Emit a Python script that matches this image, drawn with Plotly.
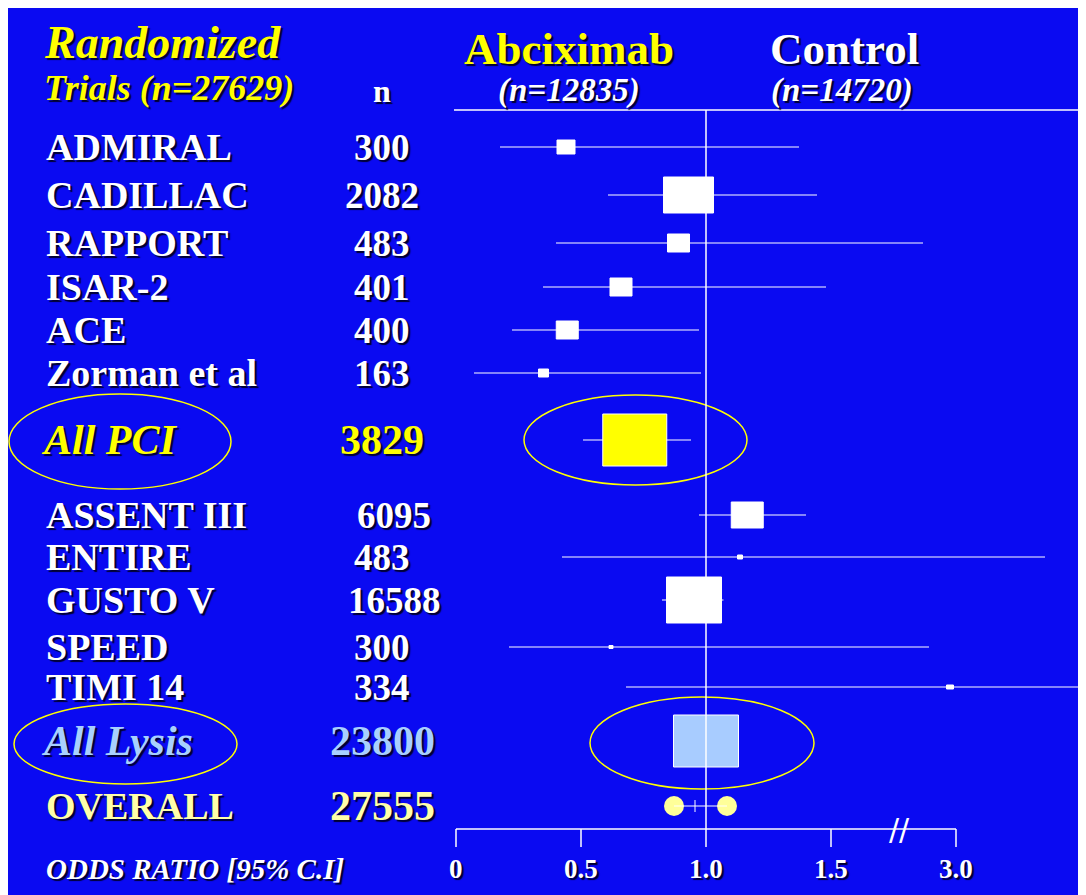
import plotly.graph_objects as go

# data (axis units: 0..1.5 linear odds ratio; beyond 1.5 the scale is compressed, 3.0 shown at 2.0)
trials = ["ADMIRAL", "CADILLAC", "RAPPORT", "ISAR-2", "ACE", "Zorman et al", "All PCI",
          "ASSENT III", "ENTIRE", "GUSTO V", "SPEED", "TIMI 14", "All Lysis", "OVERALL"]
n_pat = ["300", "2082", "483", "401", "400", "163", "3829",
         "6095", "483", "16588", "300", "334", "23800", "27555"]
est = [0.44, 0.93, 0.89, 0.66, 0.445, 0.35, 0.715, 1.165, 1.136, 0.952, 0.62, 1.976, 1.0, 0.956]
lo = [0.176, 0.608, 0.40, 0.348, 0.224, 0.072, 0.508, 0.972, 0.424, 0.824, 0.212, 0.68, 1.0, 0.872]
hi = [1.372, 1.444, 1.868, 1.48, 0.972, 0.98, 0.94, 1.40, 2.356, 1.07, 1.892, 2.516, 1.0, 1.084]
tick_vals = [0, 0.5, 1.0, 1.5, 2.0]
tick_text = ["0", "0.5", "1.0", "1.5", "3.0"]

# layout/styles
row_y = [148, 196, 244, 288, 331, 374, 441, 516, 558, 601, 648, 688, 742, 807]
box_w = [18, 50, 22, 22, 22, 10, 64, 32, 5, 55, 4, 7, 65, 0]
box_h = [14, 36, 18, 18, 18, 8, 52, 26, 4, 46, 3, 4, 52, 0]
num_x = [383, 383, 383, 383, 383, 383, 383, 395, 383, 395, 383, 383, 383, 383]
name_col = ["white"] * 6 + ["#ffff00"] + ["white"] * 5 + ["#a8d0ff", "#ffffaa"]
box_col = ["white"] * 6 + ["#ffff00"] + ["white"] * 5 + ["#a8ccff", "#ffff99"]

X0, S = 457, 250.0
OFF = 9
def u(px): return (px - X0) / S

BG = "#0a0af2"
SH = "2px 2px 1px #000030"
FONT = "Liberation Serif"
fig = go.Figure()
shapes, ann = [], []

for i, t in enumerate(trials):
    y = row_y[i]
    shapes.append(dict(type="line", x0=lo[i], x1=hi[i], y0=y, y1=y, line=dict(color="white", width=1.2)))
    if box_w[i] > 0:
        shapes.append(dict(type="rect", x0=est[i] - box_w[i] / 2 / S, x1=est[i] + box_w[i] / 2 / S,
                           y0=y - box_h[i] / 2, y1=y + box_h[i] / 2,
                           fillcolor=box_col[i], line=dict(color="white", width=1)))
    italic = t.startswith("All")
    sz = 42 if italic else 38
    ann.append(dict(x=u(40 if italic else 45), y=y, text=f"<b><i>{t}</i></b>" if italic else f"<b>{t}</b>",
                    xanchor="left", yanchor="middle", showarrow=False,
                    font=dict(family=FONT, size=sz, color=name_col[i], shadow=SH)))
    ann.append(dict(x=u(num_x[i]), y=y, text=f"<b>{n_pat[i]}</b>", xanchor="center", yanchor="middle",
                    showarrow=False, font=dict(family=FONT, size=42 if i in (6, 12, 13) else 37,
                                               color=name_col[i], shadow=SH)))

# overall: circles at CI ends
fig.add_trace(go.Scatter(x=[lo[13], hi[13]], y=[row_y[13]] * 2, mode="markers",
                         marker=dict(size=20, color="#ffff99", line=dict(width=0)), hoverinfo="skip"))
shapes.append(dict(type="line", x0=est[13], x1=est[13], y0=row_y[13] - 6, y1=row_y[13] + 6,
                   line=dict(color="white", width=1)))

# ellipses
for (a, b, c, d) in [(10, 232, 395, 490), (525, 748, 396, 486), (15, 238, 705, 785), (591, 815, 698, 790)]:
    shapes.append(dict(type="circle", x0=u(a), x1=u(b), y0=c, y1=d, line=dict(color="#ffff00", width=1.5)))

# reference lines
shapes.append(dict(type="line", x0=u(455), x1=u(1100), y0=111, y1=111, line=dict(color="white", width=1.5)))
shapes.append(dict(type="line", x0=1.0, x1=1.0, y0=111, y1=830, line=dict(color="white", width=1.5)))
shapes.append(dict(type="line", x0=0, x1=2.0, y0=830, y1=830, line=dict(color="white", width=1.5)))
for tv, tt in zip(tick_vals, tick_text):
    shapes.append(dict(type="line", x0=tv, x1=tv, y0=830, y1=848, line=dict(color="white", width=1.5)))
    ann.append(dict(x=tv, y=870, text=f"<b>{tt}</b>", showarrow=False, xanchor="center", yanchor="middle",
                    font=dict(family=FONT, size=27, color="white", shadow=SH)))
ann.append(dict(x=u(900), y=830, text="//", showarrow=False, font=dict(family="DejaVu Sans", size=30, color="white")))

# headers
def head(px, py, txt, size, col, anchor="left"):
    ann.append(dict(x=u(px), y=py, text=txt, showarrow=False, xanchor=anchor, yanchor="middle",
                    font=dict(family=FONT, size=size, color=col, shadow=SH)))
head(43, 43, "<b><i>Randomized</i></b>", 46, "#ffff00")
head(43, 89, "<b><i>Trials (n=27629)</i></b>", 36, "#ffff00")
head(383, 92, "<b>n</b>", 32, "white", "center")
head(570, 50, "<b>Abciximab</b>", 45, "#ffff00", "center")
head(570, 91, "<b><i>(n=12835)</i></b>", 33, "white", "center")
head(845, 50, "<b>Control</b>", 45, "white", "center")
head(843, 91, "<b><i>(n=14720)</i></b>", 33, "white", "center")
head(45, 870, "<b><i>ODDS RATIO [95% C.I]</i></b>", 29, "white")

fig.update_layout(width=1086, height=895, margin=dict(l=0, r=0, t=0, b=0),
                  paper_bgcolor=BG, plot_bgcolor=BG, showlegend=False,
                  xaxis=dict(range=[u(OFF), u(1086 + OFF)], visible=False),
                  yaxis=dict(range=[895 + OFF, OFF], visible=False),
                  shapes=shapes, annotations=ann)
fig.write_html("out.html")
